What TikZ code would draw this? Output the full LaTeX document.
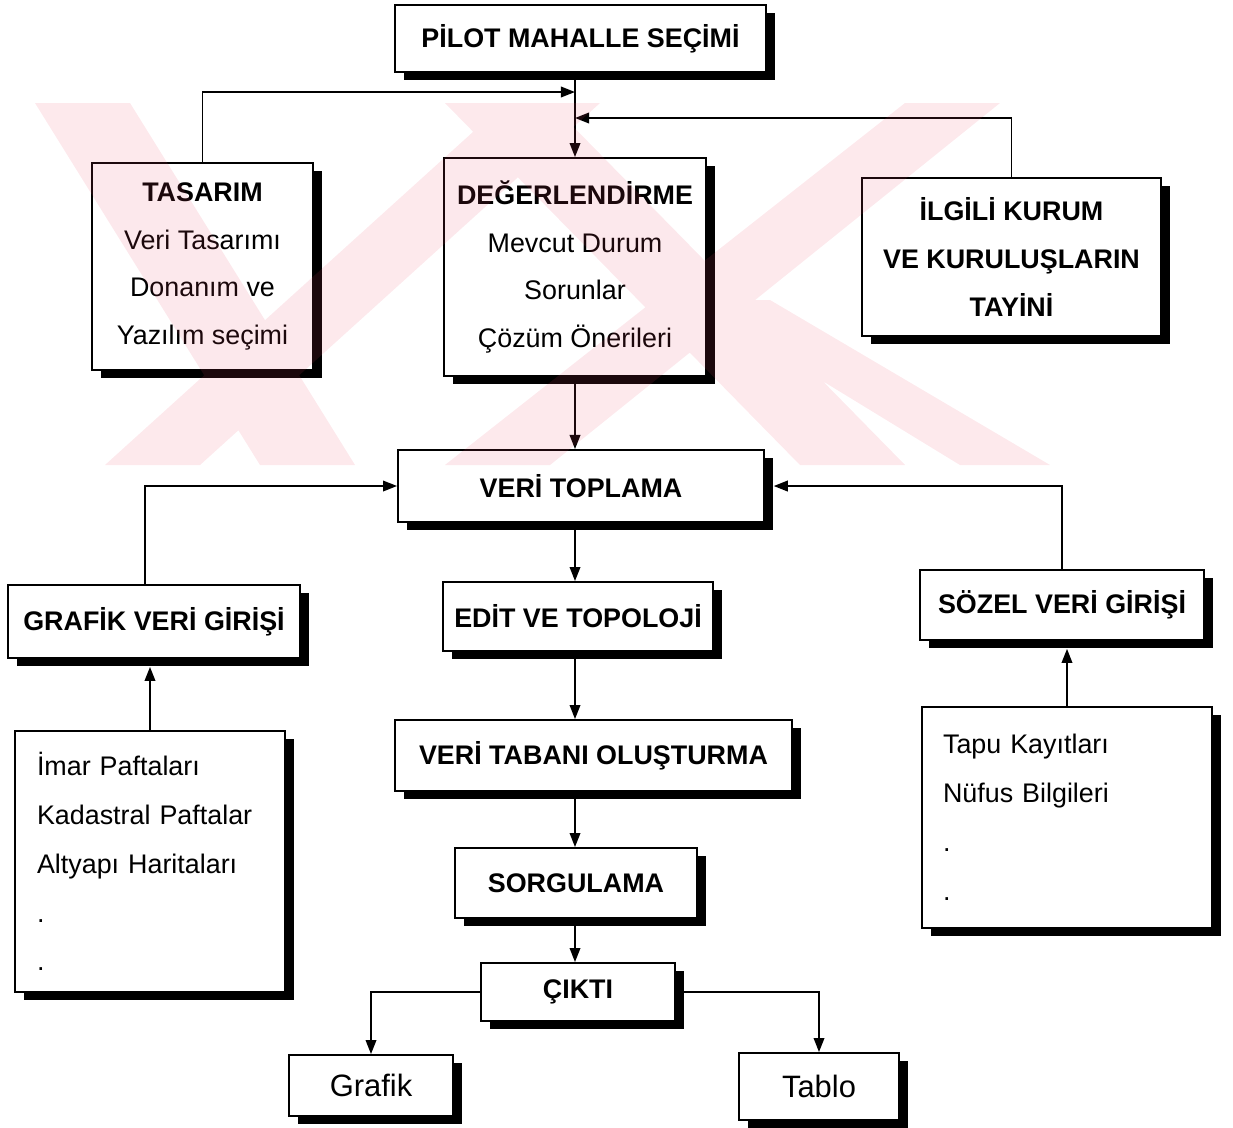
\documentclass[tikz,border=0pt]{standalone}
\usepackage{fontspec}
\setmainfont{Liberation Sans}
\usetikzlibrary{arrows.meta,positioning,shadows}
\definecolor{wmpink}{RGB}{235,70,100}

\tikzset{
  box/.style={draw, line width=1.1pt, fill=white, inner sep=0pt, align=center,
    drop shadow={shadow xshift=5pt, shadow yshift=-4.5pt, fill=black, opacity=1},
    font=\fontsize{15.3}{27.2}\selectfont},
  head/.style={box, font=\bfseries\fontsize{15.3}{27.2}\selectfont},
  listbox/.style={box, align=left, inner ysep=0pt, font=\fontsize{15.3}{27.8}\selectfont},
  outbox/.style={box, font=\fontsize{17.6}{20}\selectfont},
  arr/.style={line width=1.1pt, -{Triangle[length=8pt,width=6pt]}}
}

\begin{document}
\begin{tikzpicture}[x=0.02cm, y=-0.02cm]
\useasboundingbox (0,0) rectangle (1233,1127);

\node[head, minimum width=7.42cm, minimum height=1.34cm] (pilot) at (580.5,38.5) {PİLOT MAHALLE SEÇİMİ};
\node[box, minimum width=4.42cm, minimum height=4.14cm] (tasarim) at (202.5,266.5)
    {{\bfseries TASARIM}\\Veri Tasarımı\\Donanım ve\\Yazılım seçimi};
\node[box, minimum width=5.24cm, minimum height=4.36cm] (deger) at (575,267)
    {{\bfseries DEĞERLENDİRME}\\Mevcut Durum\\Sorunlar\\Çözüm Önerileri};
\node[head, minimum width=5.98cm, minimum height=3.16cm] (kurum) at (1011.5,257)
    {İLGİLİ KURUM\\VE KURULUŞLARIN\\TAYİNİ};
\node[head, minimum width=7.32cm, minimum height=1.44cm] (toplama) at (581,486) {VERİ TOPLAMA};
\node[head, minimum width=5.84cm, minimum height=1.46cm] (grafikveri) at (154,621.5) {GRAFİK VERİ GİRİŞİ};
\node[head, minimum width=5.68cm, minimum height=1.40cm] (sozel) at (1062,605) {SÖZEL VERİ GİRİŞİ};
\node[head, minimum width=5.40cm, minimum height=1.38cm] (edit) at (578,616.5) {EDİT VE TOPOLOJİ};
\node[head, minimum width=7.94cm, minimum height=1.42cm] (vtabani) at (593.5,755.5) {VERİ TABANI OLUŞTURMA};
\node[head, minimum width=4.84cm, minimum height=1.40cm] (sorgu) at (576,883) {SORGULAMA};
\node[head, minimum width=3.88cm, minimum height=1.16cm] (cikti) at (578,992) {ÇIKTI};
\node[outbox, minimum width=3.28cm, minimum height=1.22cm] (grf) at (371,1085.5) {Grafik};
\node[outbox, minimum width=3.20cm, minimum height=1.34cm] (tablo) at (819,1086.5) {Tablo};
\node[listbox, text width=4.52cm, inner xsep=0.44cm, minimum height=5.22cm] (imar) at (150,861.5)
    {İmar Paftaları\\Kadastral Paftalar\\Altyapı Haritaları\\.\\.};
\node[listbox, text width=4.96cm, inner xsep=0.42cm, minimum height=4.42cm] (tapu) at (1067,817.5)
    {Tapu Kayıtları\\Nüfus Bilgileri\\.\\.};

\coordinate (j1) at (575,92);
\coordinate (j2) at (575,118);

\draw[arr] (pilot.south -| deger.north) -- (deger.north);
\draw[arr] (tasarim.north) |- (j1);
\draw[arr] (kurum.north) |- (j2);

\path[arr]
    (deger.south)                  edge (deger.south |- toplama.north)
    (deger.south |- toplama.south) edge (deger.south |- edit.north)
    (deger.south |- edit.south)    edge (deger.south |- vtabani.north)
    (deger.south |- vtabani.south) edge (deger.south |- sorgu.north)
    (deger.south |- sorgu.south)   edge (deger.south |- cikti.north);

\draw[arr] ([xshift=-5pt]grafikveri.north) |- (toplama.west);
\draw[arr, shorten >=5pt] (sozel.north) |- (toplama.east);
\draw[arr, shorten >=4.5pt] (imar.north) -- (imar.north |- grafikveri.south);
\draw[arr, shorten >=4.5pt] (tapu.north) -- (tapu.north |- sozel.south);
\draw[arr] (cikti.west) -| (grf.north);
\draw[arr] (cikti.east) -| (tablo.north);

\fill[wmpink, opacity=0.12]
    (35,103) -- (130,103) -- (355,465) -- (260,465) -- cycle
    (505,103) -- (600,103) -- (200,465) -- (105,465) -- cycle
    (445,103) -- (550,103) -- (905,465) -- (800,465) -- cycle
    (905,103) -- (1000,103) -- (550,465) -- (445,465) -- cycle
    (690,300) -- (770,300) -- (1050,465) -- (960,465) -- cycle;
\end{tikzpicture}
\end{document}
